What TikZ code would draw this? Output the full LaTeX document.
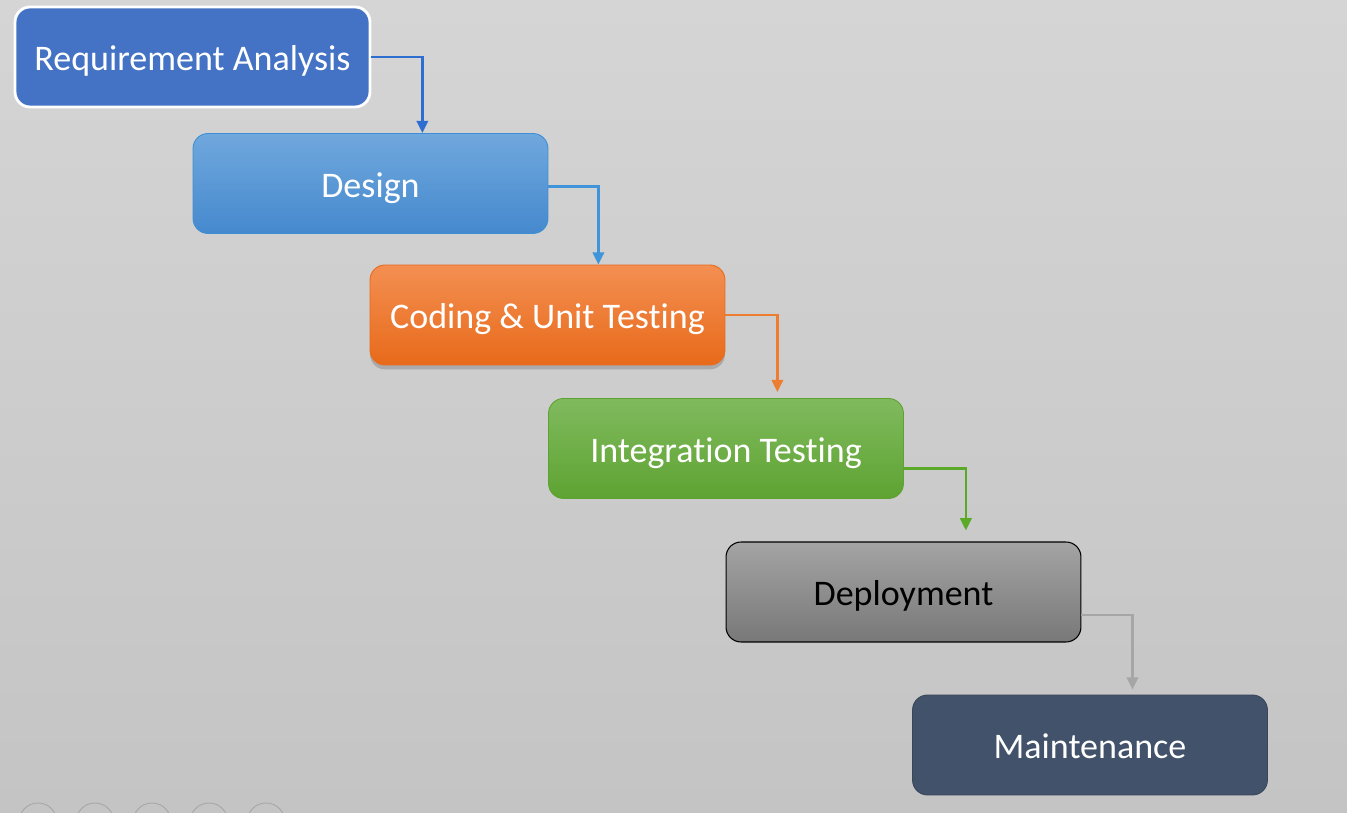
\documentclass[tikz,border=0pt]{standalone}
\usepackage{fontspec}
\setmainfont[Ligatures=NoCommon]{Carlito}
\usetikzlibrary{arrows.meta,shadows}

\definecolor{bgtop}{RGB}{213,213,213}
\definecolor{bgbot}{RGB}{196,196,196}
\definecolor{reqblue}{RGB}{68,114,196}
\definecolor{designtop}{RGB}{112,168,221}
\definecolor{designbot}{RGB}{69,137,206}
\definecolor{designline}{RGB}{62,142,214}
\definecolor{codetop}{RGB}{243,143,82}
\definecolor{codebot}{RGB}{232,106,26}
\definecolor{integtop}{RGB}{128,186,94}
\definecolor{integbot}{RGB}{94,163,50}
\definecolor{deploytop}{RGB}{164,164,164}
\definecolor{deploybot}{RGB}{120,120,120}
\definecolor{maintblue}{RGB}{66,82,106}
\definecolor{reqarrow}{RGB}{46,110,208}
\definecolor{designarrow}{RGB}{64,148,218}
\definecolor{codearrow}{RGB}{237,125,49}
\definecolor{integarrow}{RGB}{90,170,40}
\definecolor{deployarrow}{RGB}{166,166,166}

\tikzset{
	phase/.style={rounded corners=0.3cm, minimum width=7.1cm, minimum height=2cm, inner sep=0pt,
		text height=16pt, text depth=0.4pt, text=white, font=\fontsize{20.5}{24}\selectfont},
	flow/.style={->, line width=1.5pt},
}

\begin{document}
\begin{tikzpicture}[>={Triangle[length=7pt,width=6.5pt]},x=0.02cm,y=-0.02cm]
	\shade[top color=bgtop,bottom color=bgbot] (0,0) rectangle (1347,813);
	\useasboundingbox (0,0) rectangle (1347,813);
	%	slide show buttons, cut by the lower edge
	\begin{scope}
		\clip (0,0) rectangle (1347,813);
		\foreach \x in {38,95,152,209,266}
			\draw[gray!70,line width=0.5pt] (\x,822) circle (19);
	\end{scope}
	% phases
	\node[phase, fill=reqblue, draw=white, line width=1.6pt] (req) at (192.5,57) {Requirement Analysis};
	\node[phase, top color=designtop, bottom color=designbot, draw=designline, line width=0.5pt] (design) at (370.5,183.5) {Design};
	\node[phase, top color=codetop, bottom color=codebot, draw=codebot, line width=0.5pt,
		drop shadow={shadow xshift=0pt,shadow yshift=-2.5pt,opacity=0.45}] (code) at (547.5,315) {Coding \& Unit Testing};
	\node[phase, top color=integtop, bottom color=integbot, draw=integbot, line width=0.5pt] (integ) at (726,448.5) {Integration Testing};
	\node[phase, top color=deploytop, bottom color=deploybot, draw=black, line width=0.6pt, text=black] (deploy) at (903.5,592) {Deployment};
	\node[phase, fill=maintblue, draw=maintblue!85!black, line width=0.5pt] (maint) at (1090,745) {Maintenance};
	% connectors
	\draw[flow, reqarrow] (req.east) -| ([xshift=1.02cm]req.east |- design.north);
	\draw[flow, designarrow] ([yshift=-0.06cm]design.east) -| ([xshift=1cm]design.east |- code.north);
	\draw[flow, codearrow, shorten >=0.12cm] (code.east) -| ([xshift=1.04cm]code.east |- integ.north);
	\draw[flow, integarrow, shorten >=0.22cm] ([yshift=-0.4cm]integ.east) -| ([xshift=1.24cm]integ.east |- deploy.north);
	\draw[flow, deployarrow, shorten >=0.1cm] ([yshift=-0.46cm]deploy.east) -| ([xshift=1.02cm]deploy.east |- maint.north);
\end{tikzpicture}
\end{document}
